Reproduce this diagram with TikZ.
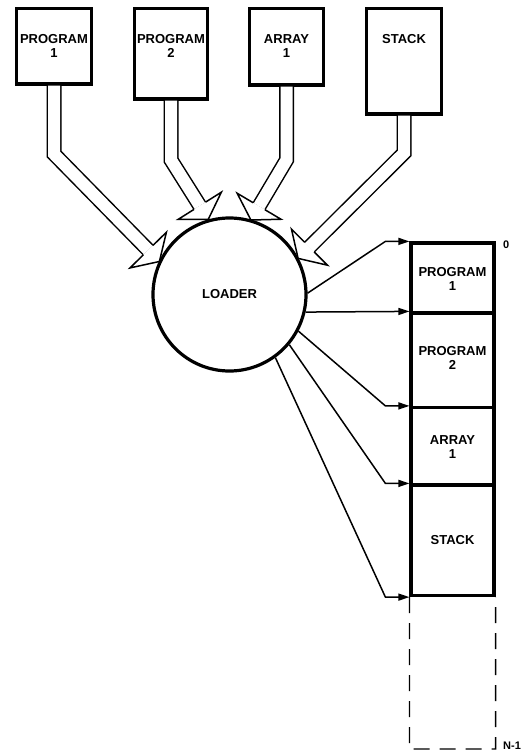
\documentclass[tikz,border=0pt]{standalone}
\usepackage{fontspec}
\setmainfont{Liberation Sans}
\usetikzlibrary{calc,arrows.meta}
\newcommand{\hollowarrow}[3]{%
  \coordinate (hb) at ($(#3)!16pt!(#2)$);
  \draw[line width=1.5pt, double=white, double distance=12pt, line join=miter] (#1) -- (#2) -- (hb);
  \fill[white] ($(hb)!25.5pt!90:(#3)$) -- (#3) -- ($(hb)!25.5pt!-90:(#3)$) -- cycle;
  \draw[line width=1.5pt, line join=miter] ($(hb)!6.75pt!90:(#3)$) -- ($(hb)!25.5pt!90:(#3)$) -- (#3) -- ($(hb)!25.5pt!-90:(#3)$) -- ($(hb)!6.75pt!-90:(#3)$);
}
\begin{document}
\begin{tikzpicture}[x=1pt,y=-1pt,
  box/.style={draw, line width=3.2pt, inner sep=0pt},
  lbl/.style={font=\bfseries\fontsize{13}{14}\selectfont, align=center, inner sep=0pt},
  small/.style={font=\bfseries\fontsize{11}{12}\selectfont, inner sep=0pt},
  ptr/.style={line width=1.5pt, -{Triangle[length=11pt,width=7pt]}},
  memdash/.style={line width=1.3pt, dash pattern=on 16pt off 10pt}
]
\useasboundingbox (0,0) rectangle (529,752);

% top boxes
\node[box, minimum width=75pt, minimum height=75.5pt] (p1) at (54,46.25) {};
\node[lbl, anchor=north] (t1) at (54,34) {PROGRAM\\1};
\node[box, minimum width=73pt, minimum height=90.5pt] (p2) at (171,53.75) {};
\node[lbl, anchor=north] (t2) at (171,34) {PROGRAM\\2};
\node[box, minimum width=74pt, minimum height=76.5pt] (p3) at (286.5,46.75) {};
\node[lbl, anchor=north] (t3) at (286.5,34) {ARRAY\\1};
\node[box, minimum width=75pt, minimum height=105.5pt] (p4) at (404,61.25) {};
\node[lbl, anchor=north] (t4) at (404,34) {STACK};

% hollow arrows
\coordinate (k1) at (54,154);     \coordinate (e1) at (159.4,261.5);
\coordinate (k2) at (171,160);    \coordinate (e2) at (208.3,219.3);
\coordinate (k3) at (286.5,160);  \coordinate (e3) at (250.9,220);
\coordinate (k4) at (404,153);    \coordinate (e4) at (298.1,258.4);
\hollowarrow{p1.south}{k1}{e1}
\hollowarrow{p2.south}{k2}{e2}
\hollowarrow{p3.south}{k3}{e3}
\hollowarrow{p4.south}{k4}{e4}

% loader
\node[circle, draw, line width=3.2pt, fill=white, minimum size=153pt, inner sep=0pt,
      font=\bfseries\fontsize{13}{14}\selectfont] (loader) at (229.5,294.5) {LOADER};

% memory column
\node[box, minimum width=83pt, minimum height=70pt] (m1) at (452.5,278) {};
\node[lbl] (u1) at (452.5,279) {PROGRAM\\1};
\node[box, minimum width=83pt, minimum height=94.5pt] (m2) at (452.5,360.25) {};
\node[lbl] (u2) at (452.5,358) {PROGRAM\\2};
\node[box, minimum width=83pt, minimum height=77.5pt] (m3) at (452.5,446.25) {};
\node[lbl] (u3) at (452.5,447.5) {ARRAY\\1};
\node[box, minimum width=83pt, minimum height=110.5pt] (m4) at (452.5,540.25) {};
\node[lbl] (u4) at (452.5,540) {STACK};

% pointers
\draw[ptr] (loader.1) -- ([xshift=-24pt]m1.north west) -- (m1.north west);
\draw[ptr] (loader.-13) -- (m2.north west);
\draw[ptr] (loader.-28) -- ([xshift=-24pt]m3.north west) -- (m3.north west);
\draw[ptr] (loader.-40) -- ([xshift=-24pt]m4.north west) -- (m4.north west);
\draw[ptr] (loader.-54) -- ([xshift=-24pt]m4.south west) -- (m4.south west);

% dashed continuation
\coordinate (d1) at (409.4,749);
\coordinate (d2) at (495.6,749);
\draw[memdash] (m4.south west) -- (d1) -- (d2) -- (m4.south east);

\node[small, anchor=base west] (z0) at (503,248.3) {0};
\node[small, anchor=base west] (zn) at (503,749) {N-1};
\end{tikzpicture}
\end{document}
